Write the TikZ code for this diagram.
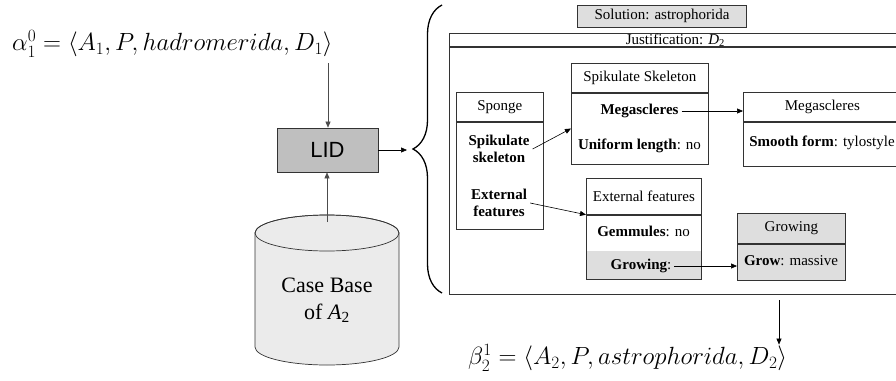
\documentclass[tikz,border=0pt]{standalone}
\usepackage{fontspec}
\setmainfont{Liberation Serif}
\newfontfamily\lidfont{Liberation Sans}
\usetikzlibrary{arrows.meta,decorations.pathreplacing}

\begin{document}
\begin{tikzpicture}[x=1pt,y=-1pt,
    txt/.style={font=\fontsize{15}{16.5}\selectfont},
    frame/.style={draw=black!80,line width=.7pt,inner sep=0pt,txt},
    shade/.style={fill=black!13},
    entry/.style={txt,align=center,inner sep=3pt},
    formula/.style={font=\fontsize{25.5}{30}\selectfont,inner sep=0pt},
    arr/.style={-{Triangle[length=6pt,width=5pt]},line width=.6pt}]
      \useasboundingbox (0,0) rectangle (896,380);
      \clip (0,0) rectangle (896,380);
      % input case and the case base
      \node[formula,anchor=west] (alpha) at (12,44) {$\alpha_1^0 = \langle A_1, P, hadromerida, D_1\rangle$};
      \node[frame,fill=black!25,minimum width=101pt,minimum height=44pt,font=\lidfont\fontsize{22}{26}\selectfont] (lid) at (327.5,150) {LID};
      \draw[draw=black!80,fill=black!8,line width=.7pt] (255,233) -- (255,347)
        arc[start angle=180,end angle=360,x radius=72pt,y radius=18pt] -- (399,233)
        arc[start angle=0,end angle=180,x radius=72pt,y radius=18pt] -- cycle;
      \draw[draw=black!80,line width=.7pt] (327,233) ellipse[x radius=72pt,y radius=18pt];
      \node[align=center,font=\fontsize{22}{27}\selectfont] (cb) at (327,300) {Case Base\\of \textit{A}\textsubscript{2}};
      \coordinate (atip) at (328,63);
      \coordinate (cbtop) at (327,222);
      \coordinate (btip) at (407,150);
      \draw[arr,draw=black!70] (atip) -- (atip |- lid.north);
      \draw[arr,draw=black!70] (cbtop) -- (cbtop |- lid.south);
      \draw[arr] (lid.east) -- (btip);
      \draw[decorate,decoration={brace,amplitude=29pt},line width=1.3pt] (442,293) -- (442,5);
      % solution and justification
      \node[frame,shade,minimum width=169pt,minimum height=22pt] (sol) at (662,16) {Solution: astrophorida};
      \node[frame,anchor=north west,minimum width=452pt,minimum height=13pt,text height=10.5pt,text depth=1pt,inner ysep=.75pt] (jus) at (449,33) {Justification: \textit{D}\textsubscript{2}};
      \node[frame,anchor=north,minimum width=452pt,minimum height=247pt] (jusb) at (jus.south) {};
      % Sponge
      \node[frame,anchor=north west,minimum width=87pt,minimum height=29pt] (sp) at (456,92) {Sponge};
      \node[frame,anchor=north,minimum width=87pt,minimum height=107pt] (spb) at (sp.south) {};
      \node[entry] (spsk) at (499,149) {\textbf{Spikulate}\\\textbf{skeleton}};
      \node[entry] (spef) at (499,203) {\textbf{External}\\\textbf{features}};
      % Spikulate Skeleton
      \node[frame,anchor=north west,minimum width=137pt,minimum height=29pt] (sk) at (571,63) {Spikulate Skeleton};
      \node[frame,anchor=north,minimum width=137pt,minimum height=71pt] (skb) at (sk.south) {};
      \node[entry] (skmeg) at (639.5,111) {\textbf{Megascleres}};
      \node[entry] (skul) at (639.5,146) {\textbf{Uniform length}: no};
      % Megascleres
      \node[frame,anchor=north west,minimum width=158pt,minimum height=29pt] (mg) at (743,92) {Megascleres};
      \node[frame,anchor=north,minimum width=158pt,minimum height=44pt] (mgb) at (mg.south) {};
      \node[entry] (mgsf) at (822,143) {\textbf{Smooth form}: tylostyle};
      % External features
      \node[frame,anchor=north west,minimum width=115pt,minimum height=36pt] (ef) at (586,178) {External features};
      \node[shade,anchor=north,minimum width=115pt,minimum height=28pt,inner sep=0pt,yshift=-36pt] (efs) at (ef.south) {};
      \node[frame,anchor=north,minimum width=115pt,minimum height=64pt] (efb) at (ef.south) {};
      \node[entry] (efgm) at (643.5,231) {\textbf{Gemmules}: no};
      \node[entry] (efgr) at (641,266) {\textbf{Growing}:};
      % Growing
      \node[frame,shade,anchor=north west,minimum width=108pt,minimum height=30pt] (gr) at (737,213) {Growing};
      \node[frame,shade,anchor=north,minimum width=108pt,minimum height=36pt] (grb) at (gr.south) {};
      \node[entry] (grgm) at (791,261) {\textbf{Grow}: massive};
      % links between the boxes
      \draw[arr] (spsk.east) -- (skb.west);
      \draw[arr] (skmeg.east) -- (skmeg.east -| mg.west);
      \draw[arr] (spef.east) -- (ef.south west);
      \draw[arr] (efgr.east) -- (efgr.east -| gr.west);
      % output case
      \node[formula,anchor=west] (beta) at (468,358) {$\beta_2^1 = \langle A_2, P, astrophorida, D_2\rangle$};
      \coordinate (bst) at (779,300);
      \draw[arr] (bst) -- (bst |- beta.north);
\end{tikzpicture}
\end{document}
